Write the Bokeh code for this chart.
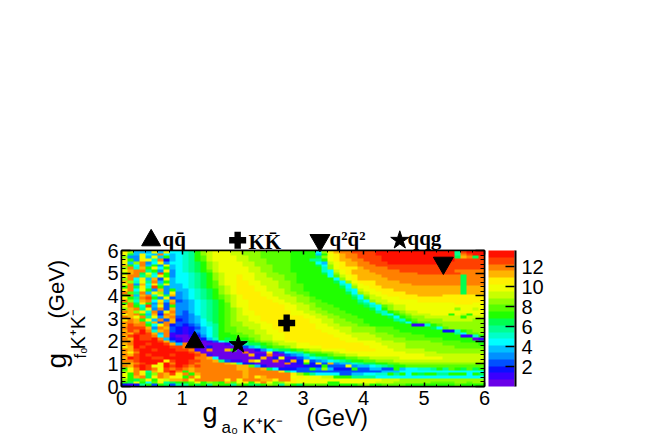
from bokeh.plotting import figure
from bokeh.embed import file_html
from bokeh.resources import INLINE
from bokeh.models import (LinearColorMapper, ColorBar, FixedTicker, LinearAxis, Label, Range1d)
import numpy as np

# colour level of every cell, one string per row, top row (y = 6) first; 60 columns, 50 rows
cell_rows = """
fc555e5e66 78acdeeedd cccbbbbbaa aa6cfghhii iijjjjjjjj jjjjj8ijjj
e95f65h656 78acdeeedd cccbbbbbaa aa5aefghhi iijjjjjjjj jjjjj8hijj
c44e5e5a56 78abdeeeed dccbbbbbaa aa9cefghhi iiijjjjjjj jjjjj9gh9i
fa4fe7h256 78abdeeeed dcccbbbbaa a88aefgghh iiijjjjjjj jjjjjiiiii
e5ch46e466 789acdeeee ddccbbbbaa aa65defggh hiiijjjjjj jjjjiiiiii
ga6h5a4e56 789acdeeee ddcccbbbaa aa96cefggh hhiiiiiiii iiiiiiiiii
ch7gaf6a56 789acdeeee eddccbbbaa aaa7cefffg hhhhiiiiii iiiiiiiiii
eghh8a4f46 789abdeeee eddccbbbaa aaa76defgg ghhhhhiiii iiiiihhhhh
agh9e7ia46 6789acdeee eeddccbbba aaa96cefgg gghhhhhhhi iiiiiihhhh
fhh8c6ea46 6789acdeef eeddcccbba aaaa6bdefg ggghhhhhhh hhhhhh9hhh
ch6f5g3e56 6789acdeef eedddccbba aaaaa6cefg gggghhhhhh hhhhhh9hhh
gc7e8h5a56 6789abdeef feedddccba aaaaa96cef ffgggghhhh hhhhhh9hhh
eh4g6f8e55 6789abdeef feedddccbb aaaaaa76de ffgggggghh hhhhhh9hhh
ah9f7ia455 6789abcdef ffeeddccbb aaaaaa96ce effggggggg gggggg9ggg
fh6ea4g4a5 56789acdef ffeedddcbb aaaaaaa76d eefffggggg gggggg9ggg
hb8h5ec4f4 56789acdef fffeeddccb baaaaaa96c deeffffggg gggggg9ggg
ah5gh7f9g4 56789abcde fffeedddcc baaaaaaa86 cdeefffffg gggfffffff
fa8hia4e34 56789abcde ffffeedddc cbaaaaaa96 bddeeeffff ffffffffff
hc7gh6f5g3 456789acde effffeeddc cbbaaaaaa8 6cddeeeeef ffffffffff
ah9fa4g3h4 456789abde efffffeedd ccbbaaaaa9 86cddeeeee eeeeefffee
fha7i5e3a4 456789abde effffffeed dcbbbaaaaa 976bcddeee eeeeeeeeee
cgh8e4h3g4 456789abcd effffffeed dccbbbaaaa a96acddeee eeeeeceede
hgcf7h3eh4 356789abcd eeffffffee ddccbbbaaa aa87abcdde eeeeeeeeee
egha5g2hg4 346789abcd eeffffffee eddccbbbaa aaa76abcdd deeeaedaee
hgeh8e4gh3 345789abcd deefffffff eeddccbbba aaaa96abcc ddddddaddd
fhgae5h3g2 345689abcd deefffffff feeddccbbb aaaaa87abc cccdddddcc
hhgh8g3hg3 345679abcc ddeeffffff feeddcccbb aaaaaa96ab bccccccccc
gihha6eh23 234678abcc dddeefffff ffeeddcccb baaaaaaa11 7abccccccc
hiiig4hg32 123568abbc cddeefffff ffeeedddcc ccbbbaaaaa a96bcccccc
gihjh7gh32 124568abbc ccddeeffff fffeeeddcc ccbbbbaaaa aaa227abcc
hgijig5h12 123568aabb ccddeeefff ffffeeeddd dcccbbbbaa aaaaa86bbc
gijiih6h10 012468aaab bccddeefff fffffeeedd ddcccbbbbb aaaaaa117a
hgjiijh521 000257a9aa abcddeefff ffffffeeed dddccccbbb bbbaaaaa01
ghjjjjig42 0000136899 9abccddeef fffffffeee eedddccccc cbbbbbaaa9
ghjjijjig5 h000000146 899abcddde efffffffff eeeddddccc cccbbbbbba
fgjijjjjii hi00200001 3579abbcde eeefffffff feeedddccc cccccbbbbb
hgijjijjji ih10h00ga0 00246899ab cddeeeefff ffeeeddddd cccccccccc
gfhjjjjjjj jih0000000 h000e13678 abbccdeeee eeeeeeeddd ddcccccccc
hgijijjjij jjih100000 0g11h00345 79aabccdde eeeeeeeeee dddddddddd
gjijjiijjj jjhhg60000 001g02e113 56789aabbc cdddddeeee eeeddddddd
hhijjjjfij jiihhg8311 0ge00h02g2 e3456789aa bbcccddddd dddddddddd
eghijjejhj jihhhhhgd7 2200000h12 a2f3g45578 99aabbcccc cccccccccc
hgijiefjij ihihhhhhhg gb52000111 222a333e45 56789aabbb bbbbbbbbbb
aehjiheihi hghhhhhhhg ghhg962223 3a4c5222a3 35533a5667 78a8ba9b9a
cfhe8gfijh aghhhhhhhh ghhhhhf863 3333333333 3335556666 6666666666
eahf9chgif haghhhhhhh ghhhhhhhfc a866663355 6677a8a6a9 aa88aaa6a9
eagh9fhgfe ahehhhhhhh ghfghhhhef eeeddaaa88 8866666666 6666666666
ca9bfaedgg hehhhhhfhe hhhggfhhfe eeeeeeeeee eeedddcccc cccccccccc
a9ea6bf89a abeacbagbe fafhebcefe eeeeaaeeee eedddccccc cbbbbccbcc
2128a3a938 8a9a8baa8b a99acb8ca9 bbbbaaaaab caabbbbaaa aaaaabaaaa
"""
palette = ["#6a00e8", "#3a00ff", "#0a10ff", "#0050ff", "#0090ff", "#00c0ff", "#00ffff",
           "#00ffc8", "#00ff90", "#00ff50", "#20ff00", "#58ff00", "#90ff00", "#c8ff00",
           "#f0ff00", "#fff000", "#ffb400", "#ff8000", "#ff4000", "#ff1000"]
z_low, z_high = 0.0, 13.6
x_ticks = [0, 1, 2, 3, 4, 5, 6]
y_ticks = [0, 1, 2, 3, 4, 5, 6]
bar_ticks = [2, 4, 6, 8, 10, 12]
marker_names = ["triangle", "plus", "inverted_triangle", "star"]
marker_x = [1.21, 2.73, 5.32, 1.93]
marker_y = [1.95, 2.8, 5.45, 1.85]
marker_size = [19, 17, 20, 19]
key_x = [0.49, 1.92, 3.28, 4.6]     # legend keys above the frame
key_y = [6.45, 6.45, 6.45, 6.45]

rows = [r.replace(" ", "") for r in cell_rows.strip().splitlines()]
step = (z_high - z_low) / len(palette)
z = np.array([[(int(c, 20) + 0.5) * step for c in r[:60].ljust(60, "c")] for r in rows[::-1]])

W, H = 654, 436
X0, X1, Y0, Y1 = 121, 484, 250, 386   # pixels of the frame
p = figure(width=W, height=H, output_backend="svg", toolbar_location=None,
           x_range=Range1d(0, 6), y_range=Range1d(0, 6),
           min_border_left=X0, min_border_right=W - X1, min_border_top=Y0,
           min_border_bottom=H - Y1, outline_line_color="black", outline_line_width=1.5)
p.grid.visible = False
mapper = LinearColorMapper(palette=palette, low=z_low, high=z_high)
p.image(image=[z], x=0, y=0, dw=6, dh=6, color_mapper=mapper)

def style(ax, ticks, major, minor, labels=True):
    ax.ticker = FixedTicker(ticks=ticks, minor_ticks=[i * 0.2 for i in range(31)])
    ax.major_tick_in = major
    ax.major_tick_out = 0
    ax.minor_tick_in = minor
    ax.minor_tick_out = 0
    ax.axis_line_width = 1.5
    ax.major_tick_line_width = 1.5
    ax.major_label_text_font = "Liberation Sans"
    ax.major_label_text_font_size = "20px"
    ax.major_label_text_color = "black" if labels else None
    ax.major_label_standoff = 3

style(p.xaxis[0], x_ticks, 4, 2)
style(p.yaxis[0], y_ticks, 9, 4)
p.xaxis[0].major_label_standoff = 4
p.yaxis[0].major_label_standoff = 3
top = LinearAxis(); style(top, x_ticks, 4, 2, False); top.major_label_text_font_size = "0px"
right = LinearAxis(); style(right, y_ticks, 9, 4, False); right.major_label_text_font_size = "0px"
p.add_layout(top, "above")
p.add_layout(right, "right")

for m, x, y, s in zip(marker_names, marker_x, marker_y, marker_size):
    p.scatter([x], [y], marker=m, size=s, color="black", line_color="black",
              line_width=0 if m == "plus" else 1)
for m, x, y, s in zip(marker_names, key_x, key_y, marker_size):
    p.scatter([x], [y], marker=m, size=s, color="black", line_color="black",
              line_width=0 if m == "plus" else 1, level="overlay")

cb = ColorBar(color_mapper=mapper, ticker=FixedTicker(ticks=bar_ticks), width=27, height=Y1 - Y0,
              location=(X1 + 4 - X0, 0), padding=0, margin=0, major_tick_in=10, major_tick_out=0,
              major_tick_line_color="black", major_tick_line_width=1.5, minor_tick_line_color=None,
              major_label_text_font="Liberation Sans", major_label_text_font_size="20px",
              major_label_text_color="black", label_standoff=6, bar_line_color=None)
p.add_layout(cb)
edge = ColorBar(color_mapper=LinearColorMapper(palette=["black"], low=0, high=1),
                ticker=FixedTicker(ticks=[]), width=2, height=Y1 - Y0,
                location=(515 - X0 - 1, 0), padding=0, margin=0, major_tick_line_color=None,
                minor_tick_line_color=None, bar_line_color=None, major_label_text_color=None,
                major_label_text_font_size="0px")
p.add_layout(edge)

sx = (X1 - X0) / 6.0
sy = (Y1 - Y0) / 6.0
dx = lambda px: (px - X0) / sx
dy = lambda py: (Y1 - py) / sy
DROP = 0.27   # baseline offset of a label placed in a side panel, in em

def txt(px, py, s, size, font="Liberation Sans", fstyle="normal"):
    p.add_layout(Label(x=dx(px), y=dy(py - DROP * size), text=s, text_font=font,
                       text_font_size=f"{size}px", text_font_style=fstyle,
                       text_baseline="alphabetic", text_color="black"), "above")

def vtxt(px, py, s, size):
    p.add_layout(Label(x=dx(px - DROP * size), y=dy(py), text=s, text_font="Liberation Sans",
                       text_font_size=f"{size}px", angle=np.pi / 2,
                       text_baseline="alphabetic", text_color="black"), "right")

# x title
txt(202, 420, "g", 27)
txt(221, 432, "a\u2080", 17)
txt(242, 431, "K\u207aK\u207b", 20)
txt(306, 424, "(GeV)", 23)
# y title
vtxt(64, 368, "g", 28)
vtxt(84, 358, "f\u2080", 16)
vtxt(83, 349, "K\u207aK\u207b", 20)
vtxt(62, 318, "(GeV)", 22)

S = "Liberation Serif"
txt(162, 244, "qq\u0304", 21, font=S, fstyle="bold")
txt(248, 247, "KK\u0304", 21, font=S, fstyle="bold")
txt(329, 244, "q\u00b2q\u0304\u00b2", 21, font=S, fstyle="bold")
txt(407, 243, "qqg", 21, font=S, fstyle="bold")

open("out.html", "w").write(file_html(p, INLINE))
